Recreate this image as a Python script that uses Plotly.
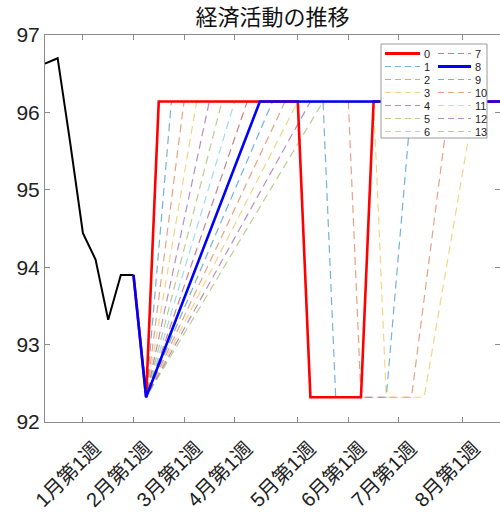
import plotly.graph_objects as go

# ---------------- data ----------------
hist_weeks = [0, 1, 2, 3, 4, 5, 6, 7]
hist_values = [96.63, 96.70, 95.60, 94.44, 94.10, 93.32, 93.90, 93.90]

scenario_names = ['0', '1', '2', '3', '4', '5', '6', '7', '8', '9', '10', '11', '12', '13']

# kink points (week index) of each scenario; straight segments between them
scenario_weeks = [
    [7, 8, 9, 20, 21, 25, 26, 36],
    [7, 8, 10, 22, 23, 27, 29, 36],
    [7, 8, 11, 24, 25, 29, 32, 36],
    [7, 8, 12, 26, 27, 30, 34, 36],
    [7, 8, 13, 36],
    [7, 8, 14, 36],
    [7, 8, 15, 36],
    [7, 8, 16, 36],
    [7, 8, 17, 36],
    [7, 8, 18, 36],
    [7, 8, 19, 36],
    [7, 8, 20, 36],
    [7, 8, 21, 36],
    [7, 8, 22, 36],
]
scenario_values = [
    [93.90, 92.32, 96.14, 96.14, 92.32, 92.32, 96.14, 96.14],
    [93.90, 92.32, 96.14, 96.14, 92.32, 92.32, 96.14, 96.14],
    [93.90, 92.32, 96.14, 96.14, 92.32, 92.32, 96.14, 96.14],
    [93.90, 92.32, 96.14, 96.14, 92.32, 92.32, 96.14, 96.14],
    [93.90, 92.32, 96.14, 96.14],
    [93.90, 92.32, 96.14, 96.14],
    [93.90, 92.32, 96.14, 96.14],
    [93.90, 92.32, 96.14, 96.14],
    [93.90, 92.32, 96.14, 96.14],
    [93.90, 92.32, 96.14, 96.14],
    [93.90, 92.32, 96.14, 96.14],
    [93.90, 92.32, 96.14, 96.14],
    [93.90, 92.32, 96.14, 96.14],
    [93.90, 92.32, 96.14, 96.14],
]

tick_weeks = [3, 7, 11, 15, 20, 24, 28, 33]
tick_labels = ['1月第1週', '2月第1週', '3月第1週', '4月第1週',
               '5月第1週', '6月第1週', '7月第1週', '8月第1週']

# ---------------- styles ----------------
scenario_colors = ['rgb(255,0,0)',
                   'rgba(0,114,189,0.55)', 'rgba(217,83,25,0.55)', 'rgba(237,177,32,0.55)',
                   'rgba(126,47,142,0.55)', 'rgba(119,172,48,0.55)', 'rgba(77,190,238,0.55)',
                   'rgba(162,20,47,0.55)', 'rgb(0,0,255)',
                   'rgba(0,114,189,0.55)', 'rgba(217,83,25,0.55)', 'rgba(237,177,32,0.55)',
                   'rgba(126,47,142,0.55)', 'rgba(119,172,48,0.55)']
solid_ids = [0, 8]
DASH = '8px,5px'

W, H = 500, 512
ML, MR, MT, MB = 45, 0, 35, 90
PW, PH = W - ML - MR, H - MT - MB
FONT = 'Liberation Sans, Arial, Noto Sans CJK JP, sans-serif'
AXC = '#8c8c8c'


def px(x):
    return (x - ML) / PW


def py(y):
    return (H - MB - y) / PH


fig = go.Figure()

fig.add_trace(go.Scatter(x=hist_weeks, y=hist_values, mode='lines',
                         line=dict(color='black', width=2), showlegend=False,
                         name='実績'))

draw_order = [i for i in range(len(scenario_names)) if i not in solid_ids] + solid_ids
for i in draw_order:
    solid = i in solid_ids
    fig.add_trace(go.Scatter(
        x=scenario_weeks[i], y=scenario_values[i], mode='lines',
        name=scenario_names[i], showlegend=False,
        line=dict(color=scenario_colors[i], width=2.6 if solid else 1.2,
                  dash='solid' if solid else DASH)))

# ---------------- legend (two columns, drawn as shapes + text) ----------------
shapes = [dict(type='rect', xref='paper', yref='paper', layer='above',
               x0=px(381), x1=px(487), y0=py(138), y1=py(44),
               fillcolor='white', line=dict(color='#9a9a9a', width=1))]
annotations = []
row0, rowgap = 53.5, 13.0
cols = [(385, 420, 423), (438, 471, 474)]
for i, name in enumerate(scenario_names):
    c, r = divmod(i, 7)
    lx0, lx1, tx = cols[c]
    yy = row0 + r * rowgap
    solid = i in solid_ids
    shapes.append(dict(type='line', xref='paper', yref='paper', layer='above',
                       x0=px(lx0), x1=px(lx1), y0=py(yy), y1=py(yy),
                       line=dict(color=scenario_colors[i], width=3 if solid else 1.2,
                                 dash='solid' if solid else '6px,4px')))
    annotations.append(dict(xref='paper', yref='paper', x=px(tx), y=py(yy),
                            text=name, showarrow=False, xanchor='left', yanchor='middle',
                            borderpad=0, height=11, align='left',
                            font=dict(family=FONT, size=11, color='#222')))

fig.update_layout(
    width=W, height=H,
    margin=dict(l=ML, r=MR, t=MT, b=MB, autoexpand=False),
    paper_bgcolor='white', plot_bgcolor='white',
    font=dict(family=FONT, color='#222'),
    title=dict(text='経済活動の推移', x=px(272.5), xref='paper', xanchor='center',
               y=1 - 17 / H, yref='container', yanchor='middle',
               font=dict(family=FONT, size=22, color='#111')),
    shapes=shapes, annotations=annotations,
    xaxis=dict(range=[0, 36], tickvals=tick_weeks, ticktext=tick_labels,
               tickangle=-45, ticks='inside', ticklen=5, tickcolor=AXC,
               ticklabelshift=12, ticklabelstandoff=6,
               showline=True, linecolor=AXC, linewidth=1, mirror='ticks',
               showgrid=False, zeroline=False, automargin=False,
               tickfont=dict(family=FONT, size=20, color='#222')),
    yaxis=dict(range=[92, 97], tickvals=[92, 93, 94, 95, 96, 97], ticks='inside',
               ticklen=5, tickcolor=AXC, showline=True, linecolor=AXC, linewidth=1,
               mirror='ticks', showgrid=False, zeroline=False, automargin=False,
               tickfont=dict(family=FONT, size=21, color='#222')),
)

fig.write_html('out.html', config={'displayModeBar': False},
               post_script="document.body.style.margin='0';"
                           "document.body.style.overflow='hidden';")
